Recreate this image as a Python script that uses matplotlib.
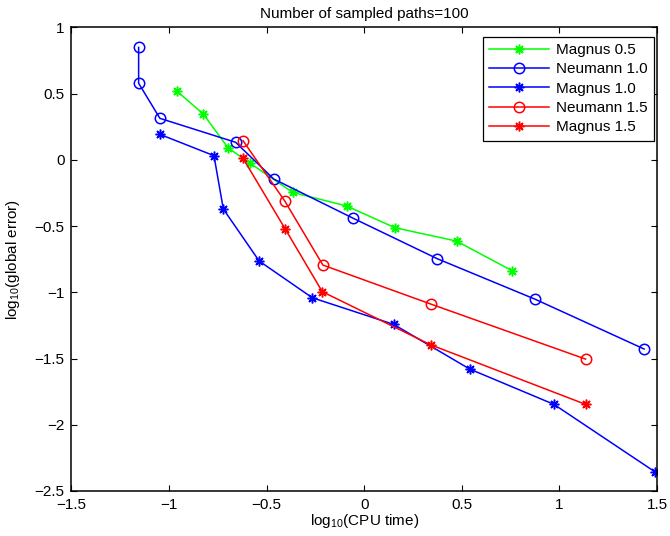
import matplotlib
matplotlib.use('Agg')
import matplotlib.pyplot as plt

plt.rcParams['font.family'] = ['Liberation Sans', 'DejaVu Sans']
plt.rcParams['mathtext.default'] = 'regular'

# data (log10 CPU time, log10 global error)
magnus05_x = [-0.960, -0.825, -0.697, -0.584, -0.367, -0.090, 0.157, 0.473, 0.758]
magnus05_y = [0.520, 0.347, 0.090, -0.026, -0.245, -0.348, -0.512, -0.613, -0.837]

neumann10_x = [-1.156, -1.156, -1.047, -0.659, -0.464, -0.059, 0.374, 0.874, 1.434]
neumann10_y = [0.850, 0.579, 0.314, 0.133, -0.144, -0.439, -0.746, -1.051, -1.428]

magnus10_x = [-1.047, -0.770, -0.722, -0.538, -0.266, 0.151, 0.540, 0.972, 1.491]
magnus10_y = [0.193, 0.032, -0.371, -0.764, -1.041, -1.242, -1.579, -1.846, -2.357]

neumann15_x = [-0.621, -0.406, -0.212, 0.340, 1.134]
neumann15_y = [0.145, -0.313, -0.794, -1.088, -1.504]

magnus15_x = [-0.621, -0.406, -0.215, 0.340, 1.134]
magnus15_y = [0.012, -0.519, -0.995, -1.396, -1.846]

labels = ['Magnus 0.5', 'Neumann 1.0', 'Magnus 1.0', 'Neumann 1.5', 'Magnus 1.5']

FS = 11
STAR = (8, 2, 0)  # matlab-like asterisk

fig = plt.figure(figsize=(6.7, 5.36), dpi=100)
ax = fig.add_axes([0.1067, 0.0840, 0.8739, 0.8647])

series = [
    (magnus05_x, magnus05_y, '#00ff00', STAR),
    (neumann10_x, neumann10_y, '#0000ff', 'o'),
    (magnus10_x, magnus10_y, '#0000ff', STAR),
    (neumann15_x, neumann15_y, '#ff0000', 'o'),
    (magnus15_x, magnus15_y, '#ff0000', STAR),
]
for (xs, ys, c, m), lab in zip(series, labels):
    if m == 'o':
        ax.plot(xs, ys, color=c, lw=1.1, marker='o', ms=7.5,
                mfc='none', mec=c, mew=1.1, label=lab)
    else:
        ax.plot(xs, ys, color=c, lw=1.1, marker=m, ms=7,
                mec=c, mew=1.1, label=lab)

ax.set_xlim(-1.5, 1.5)
ax.set_ylim(-2.5, 1)
ax.set_xticks([-1.5, -1, -0.5, 0, 0.5, 1, 1.5])
ax.set_xticklabels(['\u22121.5', '\u22121', '\u22120.5', '0', '0.5', '1', '1.5'])
ax.set_yticks([-2.5, -2, -1.5, -1, -0.5, 0, 0.5, 1])
ax.set_yticklabels(['\u22122.5', '\u22122', '\u22121.5', '\u22121', '\u22120.5', '0', '0.5', '1'])
ax.tick_params(direction='in', length=4, width=0.8, labelsize=FS,
               top=True, right=True)
ax.tick_params(axis='x', pad=5)
ax.tick_params(axis='y', pad=5)
for sp in ax.spines.values():
    sp.set_linewidth(1.1)

ax.set_title('Number of sampled paths=100', fontsize=FS, pad=7)
ax.set_xlabel('log$_{10}$(CPU time)', fontsize=FS, labelpad=0)
ax.set_ylabel('log$_{10}$(global error)', fontsize=FS, labelpad=9)

leg = ax.legend(loc='upper right', bbox_to_anchor=(0.995, 0.9795), borderaxespad=0,
                fontsize=FS, frameon=True, fancybox=False, framealpha=1,
                edgecolor='black', handlelength=3.9, handletextpad=0.5,
                labelspacing=0.35, borderpad=0.4)
leg.get_frame().set_linewidth(0.9)

fig.savefig('out.png', dpi=100)
